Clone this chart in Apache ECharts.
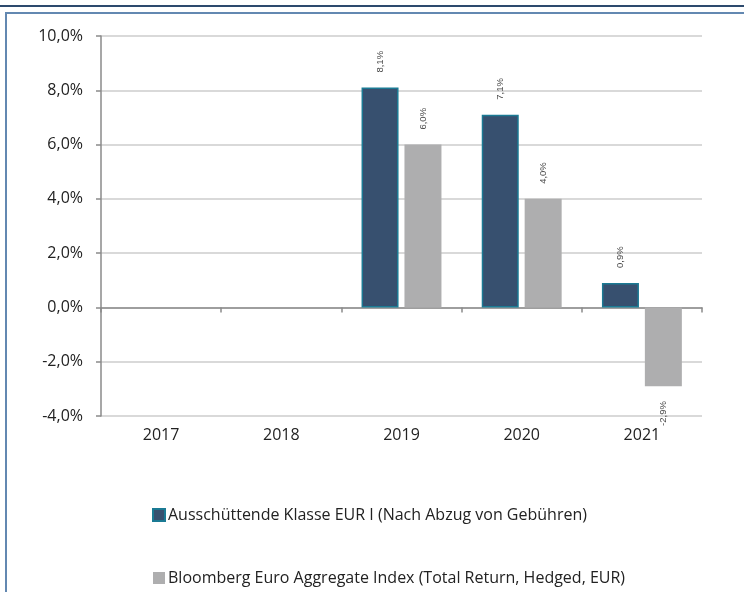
<!DOCTYPE html>
<html lang="de">
<head>
<meta charset="utf-8" />
<title>Wertentwicklung</title>
<script src="https://cdn.jsdelivr.net/npm/echarts@6/dist/echarts.min.js"></script>
<style>
    html, body { margin: 0; padding: 0; background: #fff; }
    #topline { position: absolute; left: 0; top: 5px; width: 744px; height: 0; border-top: 2px solid #2d4a6d; }
    #frame { position: absolute; left: 5px; top: 12px; width: 760px; height: 600px; border: 2px solid #6388b1; box-sizing: border-box; }
    #chart { position: absolute; left: 0; top: 0; width: 744px; height: 592px; }
</style>
</head>
<body>
<div id="topline"></div>
<div id="frame"></div>
<div id="chart"></div>
<script>
    // Daten
    var years = ['2017', '2018', '2019', '2020', '2021'];
    var fundName = 'Ausschüttende Klasse EUR I (Nach Abzug von Gebühren)';
    var indexName = 'Bloomberg Euro Aggregate Index (Total Return, Hedged, EUR)';
    var fundValues = [null, null, 8.1, 7.1, 0.9];
    var indexValues = [null, null, 6.0, 4.0, -2.9];
    var yTicks = { min: -4, max: 10, step: 2 };

    function pct(v) { return v.toFixed(1).replace('.', ',') + '%'; }

    // Beschriftung oben bzw. unten je nach Vorzeichen
    function withLabels(values) {
        return values.map(function (v) {
            if (v === null) return null;
            if (v < 0) {
                return { value: v, label: { position: 'bottom', align: 'right' } };
            }
            return { value: v };
        });
    }

    var barLabel = {
        show: true, position: 'top', rotate: 90, align: 'left', verticalAlign: 'middle',
        distance: 15, fontSize: 9.5, color: '#4a4a4a', fontFamily: 'Liberation Sans',
        formatter: function (p) { return pct(p.value); }
    };

    var chart = echarts.init(document.getElementById('chart'));
    chart.setOption({
        animation: false,
        textStyle: { fontFamily: 'Open Sans' },
        grid: { left: 101, right: 42, top: 36, bottom: 176, containLabel: false },
        legend: {
            orient: 'vertical', left: 152, top: 507, itemGap: 47, padding: 0,
            icon: 'rect', itemWidth: 12, itemHeight: 12,
            textStyle: { fontSize: 16, color: '#222', fontFamily: 'Open Sans', padding: [0, 0, 0, -2] },
            data: [fundName, indexName]
        },
        xAxis: [{
            type: 'category', data: years,
            axisLine: { onZero: true, lineStyle: { color: '#8a8a8a', width: 1.5 } },
            axisTick: { show: true, length: 5, lineStyle: { color: '#8a8a8a', width: 1.5 } },
            axisLabel: { show: false }
        }, {
            type: 'category', data: years, position: 'bottom',
            axisLine: { show: false, onZero: false }, axisTick: { show: false },
            axisLabel: { fontSize: 16, color: '#222', margin: 11 }
        }],
        yAxis: {
            type: 'value', min: yTicks.min, max: yTicks.max, interval: yTicks.step,
            axisLine: { show: true, lineStyle: { color: '#8a8a8a', width: 1.5 } },
            axisTick: { show: true, length: 5, lineStyle: { color: '#8a8a8a', width: 1.5 } },
            axisLabel: { fontSize: 16, color: '#222', margin: 18, formatter: pct },
            splitLine: { lineStyle: { color: '#d9d9d9', width: 2 } }
        },
        series: [{
            name: fundName, type: 'bar', xAxisIndex: 0, barWidth: 37, barGap: '16%',
            itemStyle: { color: '#37506f', borderColor: '#1b7a94', borderWidth: 1.5 },
            label: barLabel,
            data: withLabels(fundValues)
        }, {
            name: indexName, type: 'bar', xAxisIndex: 0, barWidth: 37,
            itemStyle: { color: '#aeaeaf' },
            label: barLabel,
            data: withLabels(indexValues)
        }]
    });
</script>
</body>
</html>
